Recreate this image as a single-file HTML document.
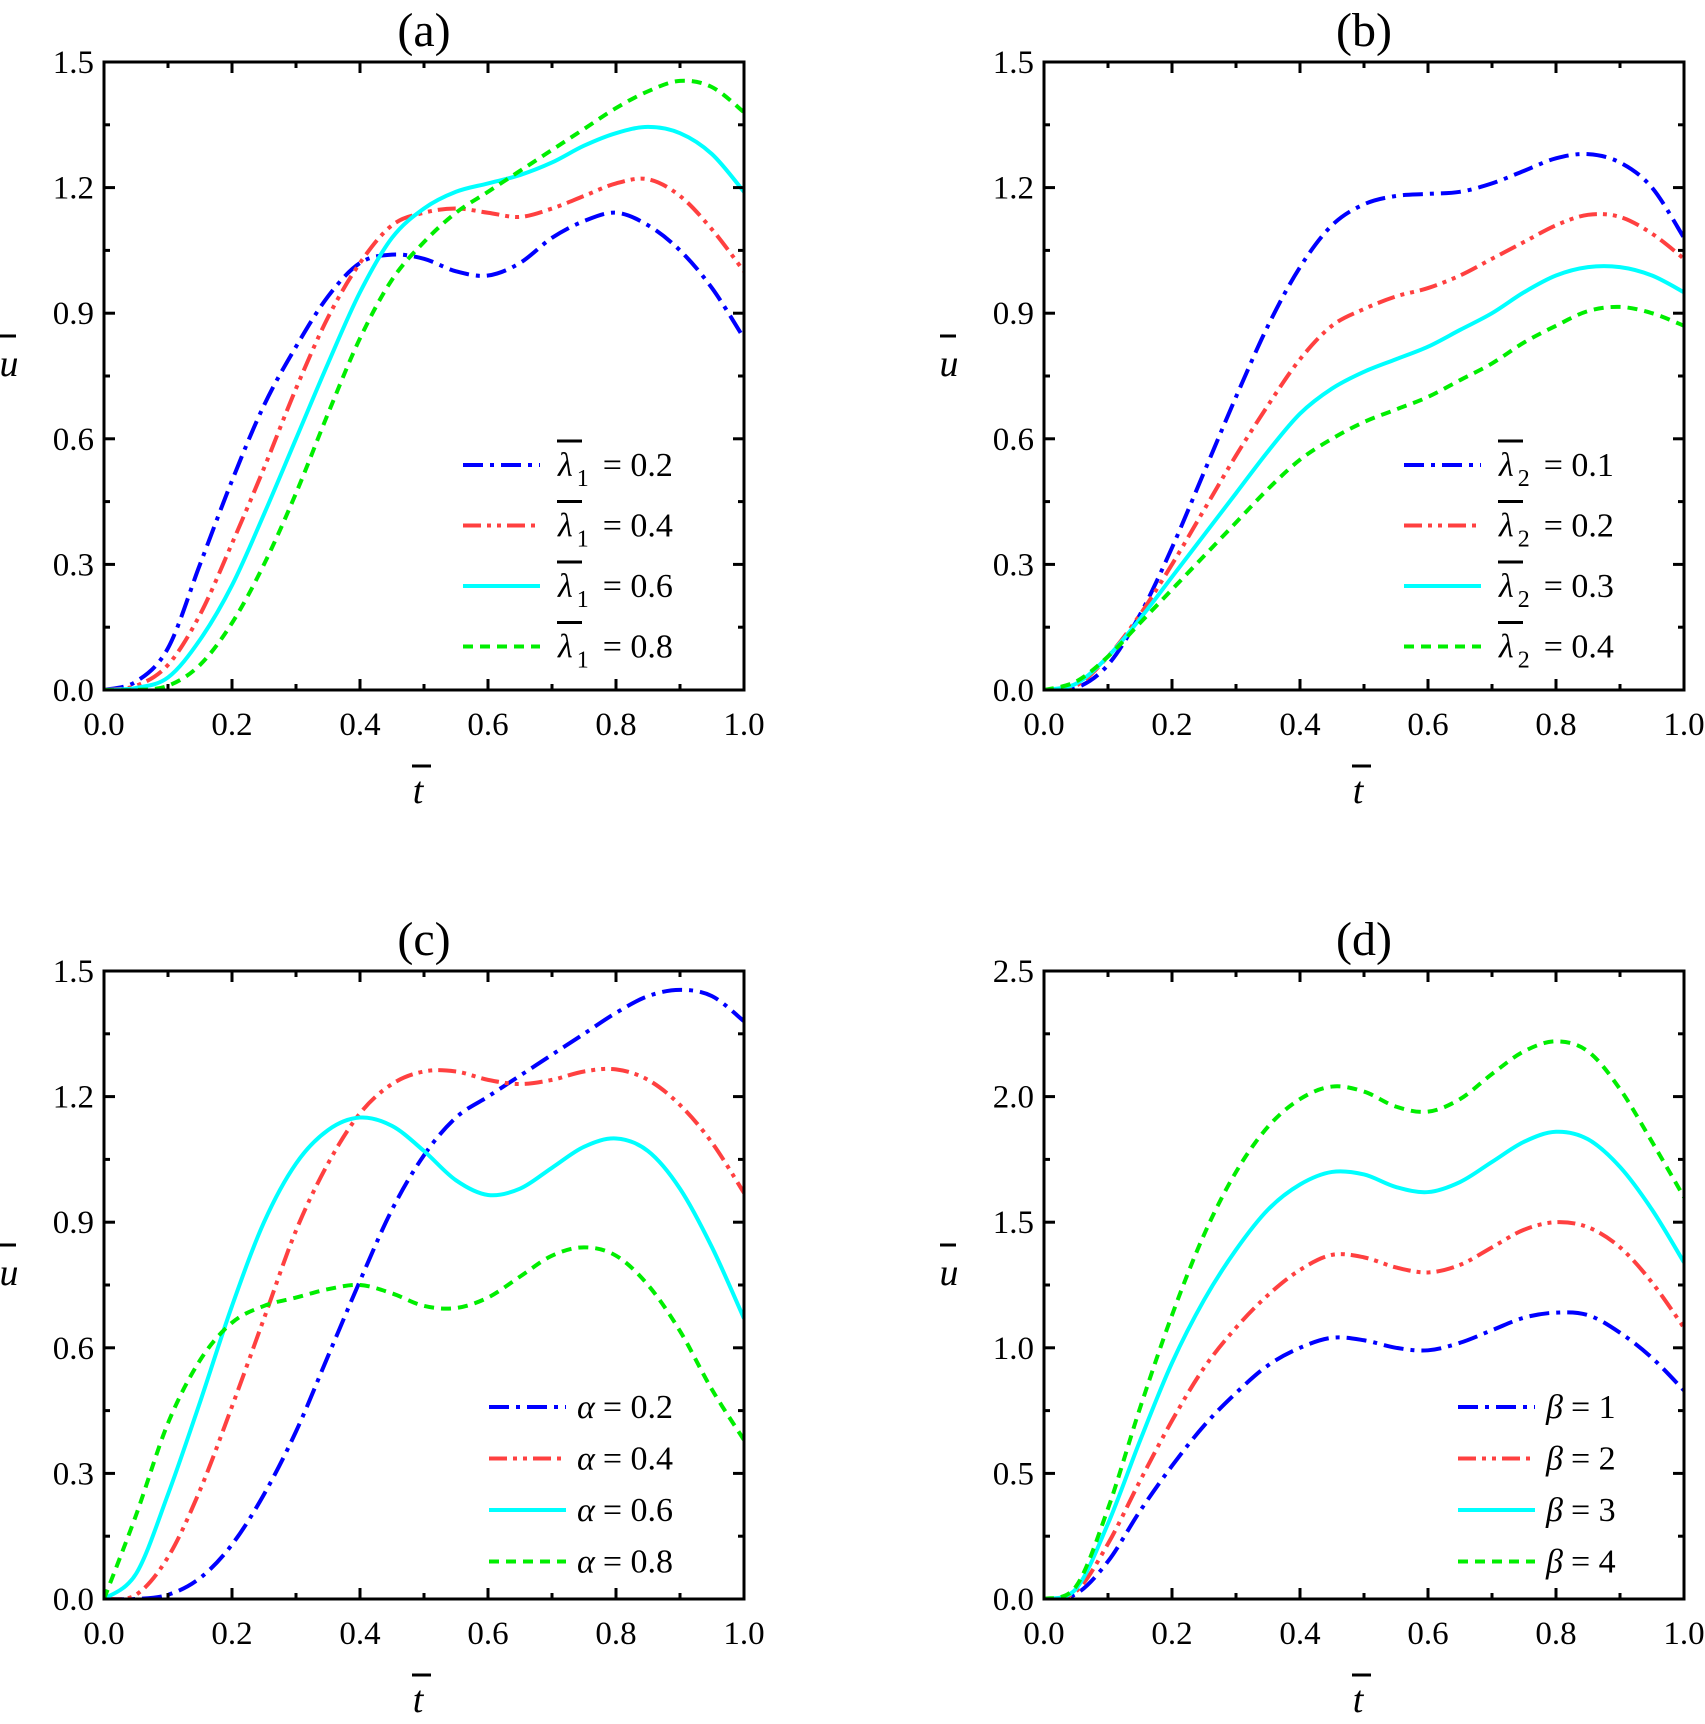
<!DOCTYPE html>
<html><head><meta charset="utf-8"><style>
html,body{margin:0;padding:0;background:#fff}
svg{display:block}
text{font-family:"Liberation Serif","Times New Roman",serif;fill:#000}
</style></head><body>
<svg id="fig" width="1705" height="1724" viewBox="0 0 1705 1724" xmlns="http://www.w3.org/2000/svg"></svg>
<script>
const tVals=[0,.05,.1,.15,.2,.25,.3,.35,.4,.45,.5,.55,.6,.65,.7,.75,.8,.85,.9,.95,1];
const xTicks=["0.0","0.2","0.4","0.6","0.8","1.0"];
const yTicks15=["0.0","0.3","0.6","0.9","1.2","1.5"];
const yTicks25=["0.0","0.5","1.0","1.5","2.0","2.5"];
const a1=[0,0.02,0.1,0.3,0.5,0.68,0.82,0.94,1.02,1.04,1.03,1.0,0.99,1.02,1.08,1.12,1.14,1.11,1.05,0.96,0.84];
const a2=[0,0.01,0.06,0.18,0.35,0.53,0.72,0.89,1.02,1.11,1.14,1.15,1.14,1.13,1.15,1.18,1.21,1.22,1.18,1.1,1.0];
const a3=[0,0.005,0.03,0.12,0.25,0.42,0.6,0.78,0.95,1.08,1.15,1.19,1.21,1.23,1.26,1.3,1.33,1.345,1.33,1.28,1.19];
const a4=[0,0,0.01,0.06,0.16,0.3,0.47,0.66,0.84,0.98,1.07,1.14,1.19,1.24,1.29,1.34,1.39,1.43,1.455,1.44,1.38];
const b1=[0,0.005,0.06,0.18,0.34,0.52,0.7,0.87,1.01,1.11,1.16,1.18,1.185,1.19,1.21,1.24,1.27,1.28,1.26,1.2,1.08];
const b2=[0,0.01,0.08,0.18,0.3,0.43,0.56,0.68,0.79,0.87,0.91,0.94,0.96,0.99,1.03,1.07,1.11,1.135,1.13,1.09,1.03];
const b3=[0,0.015,0.08,0.17,0.27,0.37,0.47,0.57,0.66,0.72,0.76,0.79,0.82,0.86,0.9,0.95,0.99,1.01,1.01,0.99,0.95];
const b4=[0,0.02,0.08,0.16,0.24,0.32,0.4,0.48,0.55,0.6,0.64,0.67,0.7,0.74,0.78,0.83,0.87,0.905,0.915,0.9,0.87];
const c1=[0,0,0.01,0.05,0.13,0.25,0.4,0.58,0.76,0.93,1.06,1.15,1.2,1.25,1.3,1.35,1.4,1.44,1.455,1.44,1.38];
const c2=[0,0.01,0.1,0.26,0.46,0.67,0.88,1.04,1.16,1.23,1.26,1.26,1.24,1.23,1.24,1.26,1.265,1.24,1.18,1.09,0.97];
const c3=[0,0.06,0.25,0.47,0.7,0.9,1.04,1.12,1.15,1.13,1.07,1.0,0.965,0.98,1.03,1.08,1.1,1.07,0.98,0.84,0.67];
const c4=[0,0.2,0.42,0.57,0.66,0.7,0.72,0.74,0.75,0.73,0.7,0.695,0.72,0.77,0.82,0.84,0.82,0.75,0.64,0.5,0.38];
const d1=[0,0.02,0.15,0.35,0.53,0.69,0.82,0.93,1.0,1.04,1.03,1.0,0.99,1.02,1.07,1.12,1.14,1.13,1.06,0.96,0.83];
const d2=[0,0.03,0.22,0.47,0.71,0.92,1.08,1.21,1.31,1.37,1.36,1.32,1.3,1.33,1.4,1.47,1.5,1.48,1.4,1.26,1.08];
const d3=[0,0.04,0.3,0.63,0.94,1.19,1.39,1.55,1.65,1.7,1.69,1.64,1.62,1.66,1.74,1.82,1.86,1.83,1.72,1.55,1.34];
const d4=[0,0.05,0.36,0.76,1.13,1.45,1.7,1.88,1.99,2.04,2.02,1.96,1.94,1.99,2.09,2.18,2.22,2.18,2.03,1.82,1.6];
const legA=["0.2","0.4","0.6","0.8"], legB=["0.1","0.2","0.3","0.4"], legC=["0.2","0.4","0.6","0.8"], legD=["1","2","3","4"];

const NS="http://www.w3.org/2000/svg";
const svg=document.getElementById('fig');
function mk(tag,attrs,parent){const e=document.createElementNS(NS,tag);for(const k in attrs)e.setAttribute(k,attrs[k]);(parent||svg).appendChild(e);return e;}
const styles=[
 {c:"#0000ff",d:"20,7,4,7"},
 {c:"#ff4040",d:"18,6,4,6,4,6"},
 {c:"#00ffff",d:"none"},
 {c:"#00ee00",d:"10,7"}];
function smooth(pts){let d="M"+pts[0][0]+","+pts[0][1];for(let i=0;i<pts.length-1;i++){const p0=pts[Math.max(0,i-1)],p1=pts[i],p2=pts[i+1],p3=pts[Math.min(pts.length-1,i+2)];
 d+=" C"+(p1[0]+(p2[0]-p0[0])/6).toFixed(2)+","+(p1[1]+(p2[1]-p0[1])/6).toFixed(2)+" "+(p2[0]-(p3[0]-p1[0])/6).toFixed(2)+","+(p2[1]-(p3[1]-p1[1])/6).toFixed(2)+" "+p2[0].toFixed(2)+","+p2[1].toFixed(2);}return d;}

function panel(o){
 const g=mk('g',{});
 
 
 const L=o.x,T=o.y,W=640,H=628,R=L+W,B=T+H;
 const sx=v=>L+v*W, sy=v=>B-v/o.ymax*H;
 const clip=mk('clipPath',{id:'clip'+o.id},g);mk('rect',{x:L,y:T,width:W,height:H},clip);
 o.series.forEach((s,i)=>{
  const pts=tVals.map((t,j)=>[sx(t),sy(s[j])]);
  const p=mk('path',{d:smooth(pts),fill:"none",stroke:styles[i].c,"stroke-width":4,"stroke-dasharray":styles[i].d,"clip-path":"url(#clip"+o.id+")"},g);
  
  
 });
 const fr=mk('rect',{x:L,y:T,width:W,height:H,fill:"none",stroke:"#000","stroke-width":3},g);
 
 
 for(let k=0;k<=10;k++){const x=sx(k/10),len=k%2?6:11;
  mk('line',{x1:x,y1:B,x2:x,y2:B-len,stroke:"#000","stroke-width":3},g);
  mk('line',{x1:x,y1:T,x2:x,y2:T+len,stroke:"#000","stroke-width":3},g);}
 xTicks.forEach((lab,k)=>{const t=mk('text',{x:sx(k*0.2),y:B+45,"font-size":33,"text-anchor":"middle"},g);t.textContent=lab;
  });
 for(let k=0;k<=10;k++){const y=B-k*H/10,len=k%2?6:11;
  mk('line',{x1:L,y1:y,x2:L+len,y2:y,stroke:"#000","stroke-width":3},g);
  mk('line',{x1:R,y1:y,x2:R-len,y2:y,stroke:"#000","stroke-width":3},g);}
 o.yt.forEach((lab,k)=>{const t=mk('text',{x:L-10,y:B-k*H/5+11,"font-size":33,"text-anchor":"end"},g);t.textContent=lab;
  });
 const ti=mk('text',{x:L+W/2,y:T-16,"font-size":48,"text-anchor":"middle"},g);ti.textContent="("+o.id+")";
 
 const xl=mk('text',{x:L+W/2-6,y:B+113,"font-size":38,"font-style":"italic","text-anchor":"middle"},g);xl.textContent="t";
 
 mk('line',{x1:L+W/2-12,y1:B+76,x2:L+W/2+7,y2:B+76,stroke:"#000","stroke-width":3},g);
 const yl=mk('text',{x:L-95,y:T+H/2,"font-size":38,"font-style":"italic","text-anchor":"middle"},g);yl.textContent="u";
 
 mk('line',{x1:L-104,y1:T+H/2-40,x2:L-88,y2:T+H/2-40,stroke:"#000","stroke-width":3},g);
 o.leg.forEach((lab,i)=>{const y=o.ly+i*o.lsp;
  const lg=mk('g',{},g);
  
  
  mk('line',{x1:o.lx,y1:y,x2:o.lx+77,y2:y,stroke:styles[i].c,"stroke-width":4,"stroke-dasharray":styles[i].d},lg);
  const tx=o.lx+(o.sym==="λ"?95:88);
  const t=mk('text',{x:tx,y:y+11,"font-size":34},lg);
  const s=mk('tspan',{"font-style":"italic"},t);s.textContent=o.sym;
  if(o.sub){const sb=mk('tspan',{"font-size":24,dy:10,dx:4},t);sb.textContent=o.sub;
   const eq=mk('tspan',{dy:-10,dx:14},t);eq.textContent="= "+lab;
   mk('line',{x1:tx-1,y1:y-24,x2:tx+24,y2:y-24,stroke:"#000","stroke-width":3},lg);}
  else{const eq=mk('tspan',{dx:8},t);eq.textContent="= "+lab;}
 });
}
panel({id:"a",x:104,y:62,ymax:1.5,yt:yTicks15,series:[a1,a2,a3,a4],leg:legA,sym:"λ",sub:"1",lx:463,ly:465,lsp:60.5});
panel({id:"b",x:1044,y:62,ymax:1.5,yt:yTicks15,series:[b1,b2,b3,b4],leg:legB,sym:"λ",sub:"2",lx:1404,ly:465,lsp:60.5});
panel({id:"c",x:104,y:971,ymax:1.5,yt:yTicks15,series:[c1,c2,c3,c4],leg:legC,sym:"α",sub:null,lx:489,ly:1407,lsp:51.5});
panel({id:"d",x:1044,y:971,ymax:2.5,yt:yTicks25,series:[d1,d2,d3,d4],leg:legD,sym:"β",sub:null,lx:1458,ly:1407,lsp:51.5});
</script>
</body></html>
